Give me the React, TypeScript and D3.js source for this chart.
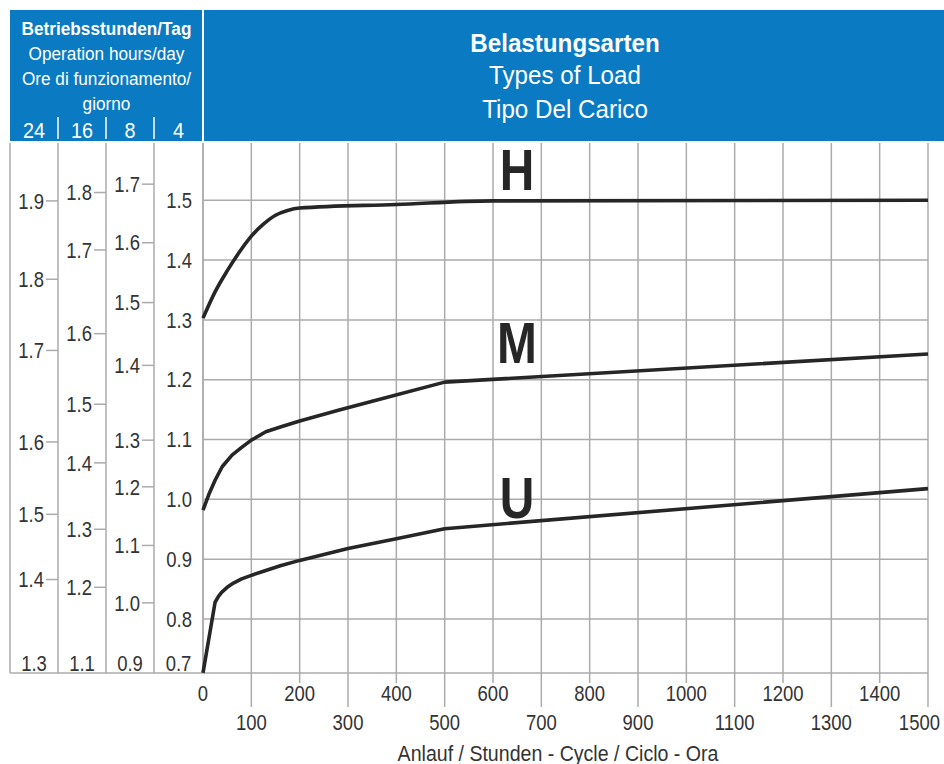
import React from "react";
import * as d3 from "d3";

// ---------- data ----------
const HOUR_COLUMNS = ["24", "16", "8", "4"];
// tick labels of each operation-hours column and their equivalent value on the 4 h scale
const COL24_LABELS = ["1.9", "1.8", "1.7", "1.6", "1.5", "1.4"];
const COL24_EQUIV = [1.499, 1.368, 1.249, 1.096, 0.975, 0.866];
const COL16_LABELS = ["1.8", "1.7", "1.6", "1.5", "1.4", "1.3", "1.2"];
const COL16_EQUIV = [1.513, 1.417, 1.277, 1.159, 1.061, 0.95, 0.853];
const COL8_LABELS = ["1.7", "1.6", "1.5", "1.4", "1.3", "1.2", "1.1", "1.0"];
const COL8_EQUIV = [1.527, 1.429, 1.329, 1.224, 1.099, 1.021, 0.923, 0.827];
const MAIN_TICKS = [1.5, 1.4, 1.3, 1.2, 1.1, 1.0, 0.9, 0.8];
const BASE_LABELS = ["1.3", "1.1", "0.9", "0.7"];

const X_TICKS = d3.range(0, 1501, 100);

const H_HOURS = [0, 25, 50, 75, 100, 125, 150, 175, 200, 400, 600, 1500];
const H_VALUES = [1.303, 1.347, 1.382, 1.413, 1.44, 1.46, 1.475, 1.483, 1.487, 1.493, 1.499, 1.5];
const M_HOURS = [0, 12, 25, 40, 60, 80, 100, 130, 160, 200, 280, 360, 500, 1500];
const M_VALUES = [0.982, 1.008, 1.032, 1.055, 1.074, 1.087, 1.099, 1.113, 1.121, 1.131, 1.149, 1.166, 1.196, 1.243];
const U_HOURS = [0, 25, 32, 39, 50, 63, 80, 100, 122, 160, 200, 300, 400, 500, 1500];
const U_VALUES = [0.71, 0.828, 0.838, 0.845, 0.853, 0.86, 0.867, 0.873, 0.879, 0.889, 0.898, 0.918, 0.934, 0.951, 1.018];

const CURVES = [
  { name: "H", hours: H_HOURS, values: H_VALUES, smooth: true },
  { name: "M", hours: M_HOURS, values: M_VALUES, smooth: false },
  { name: "U", hours: U_HOURS, values: U_VALUES, smooth: false },
];

const HEADER_LEFT = ["Betriebsstunden/Tag", "Operation hours/day", "Ore di funzionamento/", "giorno"];
const HEADER_RIGHT = ["Belastungsarten", "Types of Load", "Tipo Del Carico"];
const X_TITLE = "Anlauf / Stunden - Cycle / Ciclo - Ora";

// ---------- layout ----------
const W = 944;
const H = 764;
const FONT = "'Liberation Sans', Arial, Helvetica, sans-serif";
const BLUE = "#0a7ac2";
const GRID = "#ababab";
const TEXT = "#333333";
const INK = "#262626";
const COL_EDGES = [10, 58, 106, 154, 203];
const TOP = 143;
const BOTTOM = 673;
const LETTER_Y = [190, 362.5, 518];

const x = d3.scaleLinear().domain([0, 1500]).range([203, 928]);
const y = d3.scaleLinear().domain([0.8, 1.5]).range([619, 200.3]);

type TProps = {
  x: number;
  y: number;
  size: number;
  sx?: number;
  anchor?: "start" | "middle" | "end";
  weight?: string | number;
  fill?: string;
  children: React.ReactNode;
};
const T = ({ x, y, size, sx = 0.86, anchor = "middle", weight = "normal", fill = TEXT, children }: TProps) => (
  <text
    transform={`translate(${x},${y}) scale(${sx},1)`}
    textAnchor={anchor}
    fontSize={size}
    fontWeight={weight}
    fontFamily={FONT}
    fill={fill}
  >
    {children}
  </text>
);

export default function App() {
  const smoothLine = d3
    .line<[number, number]>()
    .x((d) => x(d[0]))
    .y((d) => y(d[1]))
    .curve(d3.curveMonotoneX);
  const straightLine = d3
    .line<[number, number]>()
    .x((d) => x(d[0]))
    .y((d) => y(d[1]))
    .curve(d3.curveLinear);

  const columns = [
    { labels: COL24_LABELS, equiv: COL24_EQUIV },
    { labels: COL16_LABELS, equiv: COL16_EQUIV },
    { labels: COL8_LABELS, equiv: COL8_EQUIV },
  ];

  const LABEL = 21.5;

  return (
    <svg
      width={W}
      height={H}
      viewBox={`0 0 ${W} ${H}`}
      style={{ position: "fixed", left: 0, top: 0, background: "#fff" }}
    >
      {/* header */}
      <rect x={10} y={10} width={192} height={131} fill={BLUE} />
      <rect x={204} y={10} width={W - 204} height={131} fill={BLUE} />
      {HEADER_LEFT.map((t, i) => (
        <T key={t} x={106.5} y={35 + i * 25} size={18.5} sx={0.93} fill="#fff" weight={i === 0 ? "bold" : "normal"}>
          {t}
        </T>
      ))}
      {HOUR_COLUMNS.map((h, i) => (
        <T key={h} x={(COL_EDGES[i] + COL_EDGES[i + 1]) / 2} y={138} size={22} sx={0.9} fill="#fff">
          {h}
        </T>
      ))}
      {COL_EDGES.slice(1, 4).map((cx) => (
        <line key={cx} x1={cx} x2={cx} y1={117} y2={139} stroke="#fff" strokeWidth={1.5} />
      ))}
      {HEADER_RIGHT.map((t, i) => (
        <T key={t} x={565} y={[52, 84, 118][i]} size={26} sx={0.93} fill="#fff" weight={i === 0 ? "bold" : "normal"}>
          {t}
        </T>
      ))}

      {/* grid */}
      {MAIN_TICKS.map((v) => (
        <line key={v} x1={x(0)} x2={x(1500)} y1={y(v)} y2={y(v)} stroke={GRID} strokeWidth={1.5} />
      ))}
      {X_TICKS.map((t, i) => (
        <line
          key={t}
          x1={x(t)}
          x2={x(t)}
          y1={TOP}
          y2={t === 0 ? BOTTOM : i % 2 === 1 ? 707 : 683}
          stroke={GRID}
          strokeWidth={1.5}
        />
      ))}
      {/* left column lines */}
      {COL_EDGES.map((cx) => (
        <line key={cx} x1={cx} x2={cx} y1={TOP} y2={BOTTOM} stroke={GRID} strokeWidth={1.5} />
      ))}
      <line x1={COL_EDGES[0]} x2={x(1500)} y1={BOTTOM} y2={BOTTOM} stroke={GRID} strokeWidth={1.5} />

      {/* hour column scales */}
      {columns.map((c, ci) =>
        c.labels.map((lab, i) => {
          const yy = y(c.equiv[i]);
          const right = COL_EDGES[ci + 1];
          return (
            <g key={`${ci}-${lab}`}>
              <line x1={right - 12} x2={right} y1={yy} y2={yy} stroke={GRID} strokeWidth={1.5} />
              <T x={right - 14} y={yy + 7.7} size={LABEL} anchor="end">
                {lab}
              </T>
            </g>
          );
        })
      )}
      {MAIN_TICKS.map((v) => (
        <T key={v} x={192} y={y(v) + 7.7} size={LABEL} anchor="end">
          {v.toFixed(1)}
        </T>
      ))}
      {BASE_LABELS.map((lab, i) => (
        <T key={lab} x={(COL_EDGES[i] + COL_EDGES[i + 1]) / 2} y={670.5} size={LABEL}>
          {lab}
        </T>
      ))}

      {/* x tick labels */}
      {X_TICKS.map((t, i) => {
        const last = i === X_TICKS.length - 1;
        return (
          <T key={t} x={last ? 940 : x(t)} y={i % 2 === 0 ? 701 : 730} size={LABEL} anchor={last ? "end" : "middle"}>
            {t}
          </T>
        );
      })}
      <T x={558} y={761} size={22.5} sx={0.87}>
        {X_TITLE}
      </T>

      {/* curves */}
      {CURVES.map((c, ci) => {
        const pts = c.hours.map((h, i) => [h, c.values[i]] as [number, number]);
        return (
          <g key={c.name}>
            <path
              d={(c.smooth ? smoothLine(pts) : straightLine(pts)) || ""}
              fill="none"
              stroke={INK}
              strokeWidth={3.6}
              strokeLinejoin="round"
            />
            <T x={517} y={LETTER_Y[ci]} size={57} sx={0.84} weight="bold" fill={INK}>
              {c.name}
            </T>
          </g>
        );
      })}
    </svg>
  );
}
